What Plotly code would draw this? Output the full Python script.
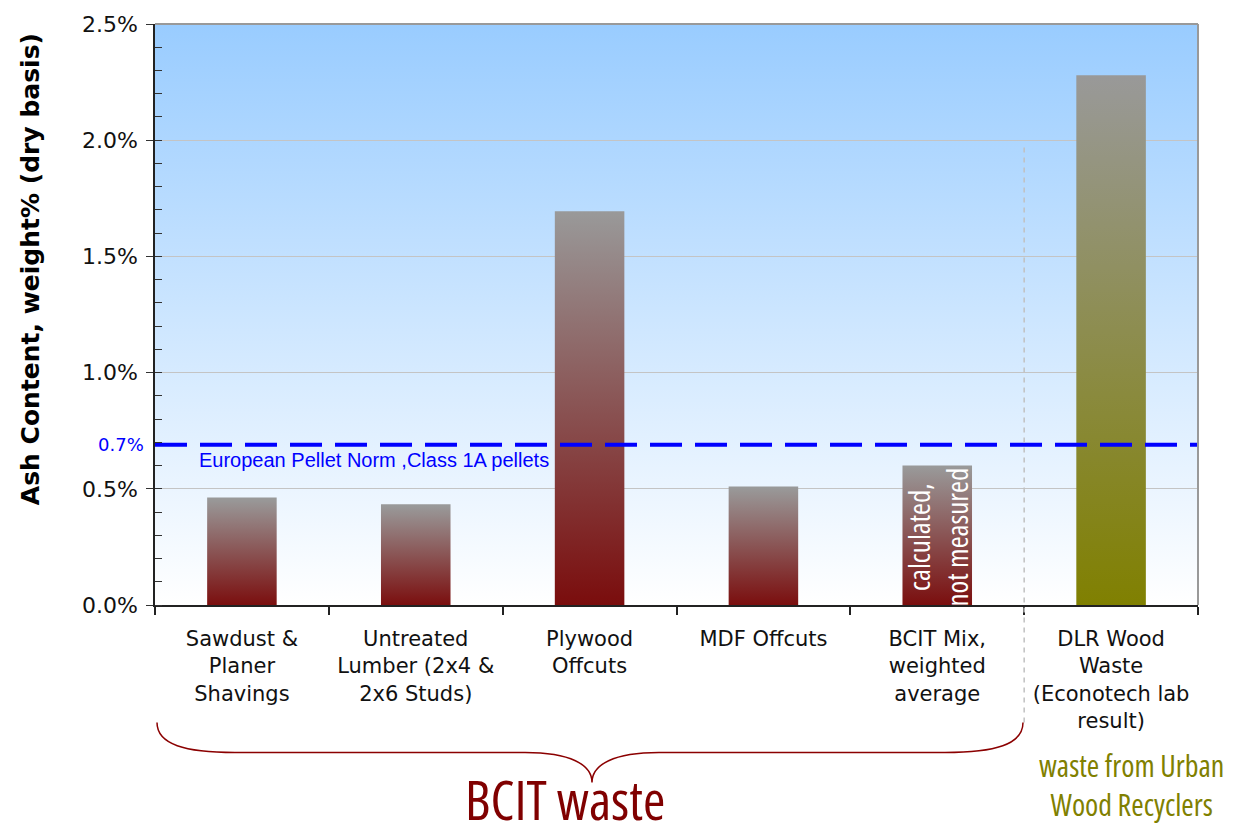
import base64
import plotly.graph_objects as go

# ---------------- data ----------------
categories = [
    "Sawdust &<br>Planer<br>Shavings",
    "Untreated<br>Lumber (2x4 &<br>2x6 Studs)",
    "Plywood<br>Offcuts",
    "MDF Offcuts",
    "BCIT Mix,<br>weighted<br>average",
    "DLR Wood<br>Waste<br>(Econotech lab<br>result)",
]
ash_content = [0.463, 0.433, 1.694, 0.51, 0.60, 2.28]
source_group = ["BCIT", "BCIT", "BCIT", "BCIT", "BCIT", "DLR"]
norm_value = 0.69
norm_label = "0.7%"
norm_text = "European Pellet Norm ,Class 1A pellets"
y_ticks = [0.0, 0.5, 1.0, 1.5, 2.0, 2.5]
y_tick_labels = ["0.0%", "0.5%", "1.0%", "1.5%", "2.0%", "2.5%"]

# ---------------- style ----------------
BAR_W = 0.40
GRAD = {"BCIT": "#7a0c0c", "DLR": "#808000"}
TOP_GREY = "#999999"
NARROW = "Open Sans, Noto Sans, sans-serif"
VERD = "DejaVu Sans, Verdana, sans-serif"

# plot area pixel geometry (for decorations)
L, R, T, B = 155, 39, 22, 231
W, H = 1237, 836
PW, PH = W - L - R, H - T - B


def px_x(p):
    return (p - L) / PW


def px_y(p):
    return (T + PH - p) / PH


def cond(s):
    return "<br>".join(f"<span style='font-stretch:75%'>{part}</span>" for part in s.split("<br>"))


fig = go.Figure()

# bars with vertical gradients
for i, (v, g) in enumerate(zip(ash_content, source_group)):
    x0, x1 = i - BAR_W / 2, i + BAR_W / 2
    fig.add_trace(go.Scatter(
        x=[x0, x1, x1, x0, x0], y=[0, 0, v, v, 0],
        mode="lines", fill="toself",
        line=dict(width=0, color="rgba(0,0,0,0)"),
        fillgradient=dict(type="vertical", start=0, stop=v,
                          colorscale=[[0, GRAD[g]], [1, TOP_GREY]]),
        hoverinfo="skip", showlegend=False,
    ))

# norm line
fig.add_trace(go.Scatter(
    x=[-0.5, len(categories) - 0.5], y=[norm_value, norm_value],
    mode="lines", line=dict(color="#0000ff", width=4, dash="32px,13px"),
    hoverinfo="skip", showlegend=False, cliponaxis=False,
))

# background gradient image
svg = ("<svg xmlns='http://www.w3.org/2000/svg' viewBox='0 0 1 1' preserveAspectRatio='none' "
       "width='100' height='100'><defs><linearGradient id='g' x1='0' y1='0' x2='0' y2='1'>"
       "<stop offset='0' stop-color='#99ccff'/><stop offset='1' stop-color='#ffffff'/>"
       "</linearGradient></defs><rect x='0' y='0' width='1' height='1' fill='url(#g)'/></svg>")
img_src = "data:image/svg+xml;base64," + base64.b64encode(svg.encode()).decode()
fig.add_layout_image(dict(source=img_src, xref="paper", yref="paper", x=0, y=1,
                          sizex=1, sizey=1, sizing="stretch", xanchor="left",
                          yanchor="top", layer="below"))

shapes = []
# top and right grey border
shapes.append(dict(type="line", xref="paper", yref="paper", x0=0, x1=1, y0=1, y1=1,
                   line=dict(color="#999999", width=2)))
shapes.append(dict(type="line", xref="paper", yref="paper", x0=1, x1=1, y0=0, y1=1,
                   line=dict(color="#999999", width=2)))
# vertical dashed separator
shapes.append(dict(type="line", xref="x", yref="paper", x0=4.5, x1=4.5,
                   y0=px_y(723), y1=px_y(141),
                   line=dict(color="#c0c0c0", width=1.5, dash="5px,5px")))


# curly brace
def P(x, y):
    return f"{px_x(x):.5f},{px_y(y):.5f}"


brace = (f"M {P(157,723)} C {P(157,745)} {P(185,753)} {P(235,753)} "
         f"L {P(525,753)} C {P(570,753)} {P(592,765)} {P(592,783)} "
         f"C {P(592,765)} {P(614,753)} {P(659,753)} "
         f"L {P(945,753)} C {P(995,753)} {P(1023,745)} {P(1023,723)}")
shapes.append(dict(type="path", xref="paper", yref="paper", path=brace,
                   line=dict(color="#8b0000", width=1.5)))

annotations = [
    dict(text="Ash Content, weight% (dry basis)", textangle=-90, xref="paper", yref="paper",
         x=px_x(30), y=px_y(268), xanchor="center", yanchor="middle", showarrow=False,
         font=dict(family=VERD, size=25, color="#000000", weight="bold")),
    dict(text=norm_label, xref="paper", yref="y", x=px_x(146), y=norm_value,
         xanchor="right", yanchor="middle", showarrow=False,
         font=dict(family=VERD, size=18, color="#0000ff")),
    dict(text=norm_text, xref="paper", yref="paper", x=px_x(197), y=px_y(460),
         xanchor="left", yanchor="middle", showarrow=False,
         font=dict(family="Liberation Sans, Arial, sans-serif", size=20, color="#0000ff")),
    dict(text=cond("calculated,<br>not measured"), textangle=-90, xref="x", yref="paper",
         x=4, y=px_y(537), xanchor="center", yanchor="middle", showarrow=False,
         font=dict(family=NARROW, size=29, color="#ffffff")),
    dict(text=cond("BCIT waste"), xref="paper", yref="paper", x=px_x(565), y=px_y(800),
         xanchor="center", yanchor="middle", showarrow=False,
         font=dict(family=NARROW, size=54, color="#800000")),
    dict(text=cond("waste from Urban<br>Wood Recyclers"), xref="paper", yref="paper",
         x=px_x(1131), y=px_y(786), xanchor="center", yanchor="middle", showarrow=False,
         font=dict(family=NARROW, size=30, color="#808000")),
]

fig.update_layout(
    width=W, height=H,
    margin=dict(l=L, r=R, t=T, b=B, pad=0),
    paper_bgcolor="#ffffff", plot_bgcolor="rgba(0,0,0,0)",
    shapes=shapes, annotations=annotations,
    showlegend=False,
    xaxis=dict(range=[-0.5, len(categories) - 0.5], tickmode="array",
               tickvals=list(range(len(categories))), ticktext=categories,
               ticks="", ticklabelstandoff=14,
               tickfont=dict(family=VERD, size=21, color="#111111"),
               showgrid=False, zeroline=False, showline=True,
               linecolor="#222222", linewidth=1.5,
               minor=dict(tickmode="array",
                          tickvals=[i - 0.5 for i in range(len(categories) + 1)],
                          ticks="outside", ticklen=8, tickcolor="#222222",
                          tickwidth=1.5, showgrid=False)),
    yaxis=dict(range=[0, 2.5], tickmode="array", tickvals=y_ticks,
               ticktext=y_tick_labels,
               ticks="outside", ticklen=7, tickcolor="#333333", tickwidth=1.2,
               tickfont=dict(family=VERD, size=22, color="#111111"),
               ticklabelstandoff=4,
               showgrid=True, gridcolor="#c4c4c4", gridwidth=1.2,
               zeroline=False, showline=True, linecolor="#222222", linewidth=1.5,
               minor=dict(dtick=0.1, tick0=0, ticks="inside", ticklen=7,
                          tickcolor="#333333", tickwidth=1.2, showgrid=False)),
)

fig.write_html("out.html")
